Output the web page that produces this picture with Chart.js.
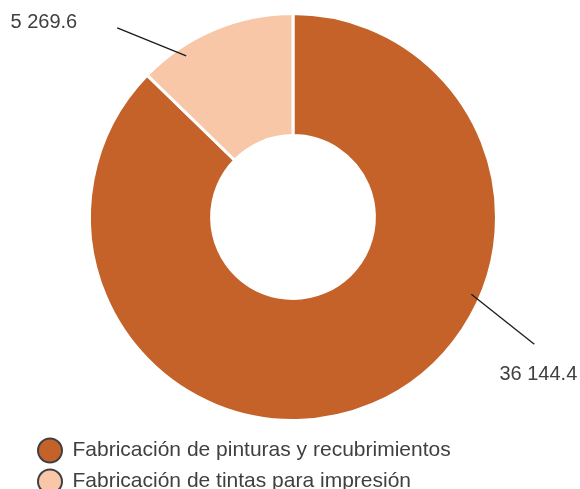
<!DOCTYPE html>
<html>
<head>
<meta charset="utf-8">
<script src="https://cdn.jsdelivr.net/npm/chart.js@4"></script>
<style>
  html, body { margin: 0; padding: 0; background: #fff; overflow: hidden; }
  #wrap { position: relative; width: 580px; height: 502px; }
</style>
</head>
<body>
<div id="wrap"><canvas id="pinturasChart"></canvas></div>
<script>
const categories = ['Fabricación de pinturas y recubrimientos', 'Fabricación de tintas para impresión'];
const values = [36144.4, 5269.6];
const sliceColors = ['#C46229', '#F7C7A7'];

const textColor = '#404040';

// leader line placement for each slice: where it starts inside the arc,
// where it ends, and where the number sits relative to that end
const leaders = [
  { frac: 0.361, r: 0.955, dx: 63, dy: 50, tx: 4, ty: 30, align: 'center' },
  { frac: 0.268, r: 0.95, dx: -69, dy: -28, tx: -40, ty: -5, align: 'right' }
];

function fmt(v) {
  const parts = v.toFixed(1).split('.');
  return parts[0].replace(/\B(?=(\d{3})+(?!\d))/g, ' ') + '.' + parts[1];
}

const leaderLabels = {
  id: 'leaderLabels',
  afterDatasetsDraw(chart) {
    const ctx = chart.ctx;
    const meta = chart.getDatasetMeta(0);
    ctx.save();
    ctx.font = '20px "Liberation Sans", Arial, sans-serif';
    ctx.fillStyle = textColor;
    ctx.strokeStyle = '#1a1a1a';
    ctx.lineWidth = 1.3;
    ctx.textBaseline = 'middle';
    meta.data.forEach((arc, i) => {
      const p = arc.getProps(['x', 'y', 'startAngle', 'endAngle', 'outerRadius'], true);
      const l = leaders[i];
      const a = p.startAngle + (p.endAngle - p.startAngle) * l.frac;
      const sx = p.x + Math.cos(a) * p.outerRadius * l.r;
      const sy = p.y + Math.sin(a) * p.outerRadius * l.r;
      const ex = sx + l.dx;
      const ey = sy + l.dy;
      ctx.beginPath();
      ctx.moveTo(sx, sy);
      ctx.lineTo(ex, ey);
      ctx.stroke();
      ctx.textAlign = l.align;
      ctx.fillText(fmt(values[i]), ex + l.tx, ey + l.ty);
    });
    ctx.restore();
  }
};

const ctx = document.getElementById('pinturasChart').getContext('2d');
new Chart(ctx, {
  type: 'doughnut',
  data: {
    labels: categories,
    datasets: [{
      data: values,
      backgroundColor: sliceColors,
      borderColor: '#ffffff',
      borderWidth: 3,
      hoverOffset: 0
    }]
  },
  options: {
    responsive: true,
    maintainAspectRatio: false,
    animation: false,
    radius: 203.5,
    cutout: '40%',
    layout: { padding: { top: 4, left: 28, right: 22, bottom: 0 } },
    plugins: {
      tooltip: { enabled: false },
      legend: {
        position: 'bottom',
        align: 'start',
        labels: {
          usePointStyle: true,
          pointStyle: 'circle',
          boxHeight: 17,
          pointStyleWidth: 24,
          padding: 10,
          color: textColor,
          font: { family: '"Liberation Sans", Arial, sans-serif', size: 21 },
          generateLabels(chart) {
            const base = Chart.overrides.doughnut.plugins.legend.labels.generateLabels(chart);
            return base.map(item => Object.assign(item, { strokeStyle: '#404040', lineWidth: 2 }));
          }
        }
      }
    }
  },
  plugins: [leaderLabels]
});
</script>
</body>
</html>
